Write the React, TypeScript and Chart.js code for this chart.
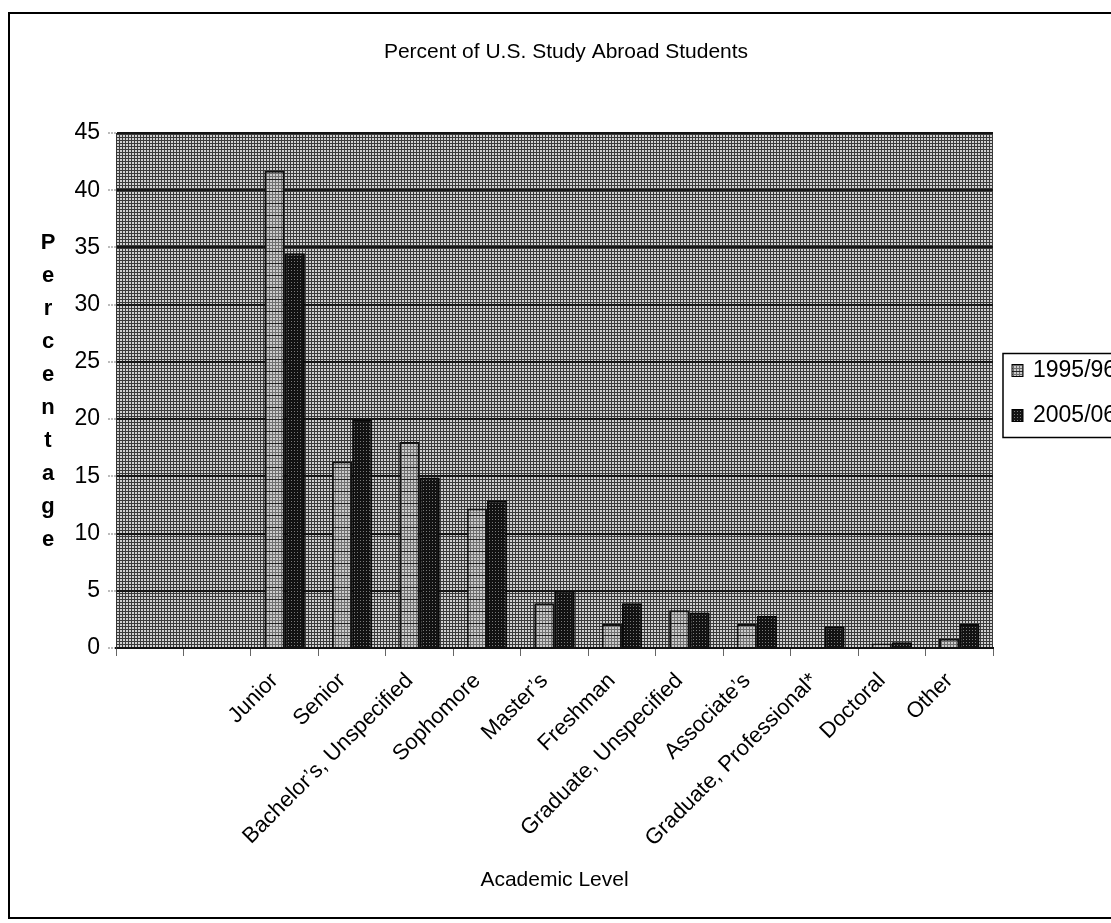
import React, { useEffect, useRef } from 'react';
import { Chart, registerables } from 'chart.js';

Chart.register(...registerables);

// Academic levels (the first two slots are left blank on the axis)
const levels = [
  '',
  '',
  'Junior',
  'Senior',
  'Bachelor’s, Unspecified',
  'Sophomore',
  'Master’s',
  'Freshman',
  'Graduate, Unspecified',
  'Associate’s',
  'Graduate, Professional*',
  'Doctoral',
  'Other',
];

const seriesNames = ['1995/96', '2005/06'];

// Percent of U.S. study abroad students by academic level
const share1995 = [null, null, 41.7, 16.3, 18.0, 12.2, 3.9, 2.1, 3.3, 2.1, 0, 0.4, 0.8];
const share2005 = [null, null, 34.5, 20.0, 14.9, 12.9, 5.0, 3.9, 3.1, 2.8, 1.9, 0.5, 2.1];

const yMin = 0;
const yMax = 45;
const yStep = 5;

const chartTitle = 'Percent of U.S. Study Abroad Students';
const xTitle = 'Academic Level';
const yTitle = 'Percentage';

const FONT = '"Liberation Sans", Arial, Helvetica, sans-serif';

function makePattern(w: number, h: number, paint: (x: number, y: number) => string): CanvasPattern | string {
  const c = document.createElement('canvas');
  c.width = w;
  c.height = h;
  const g = c.getContext('2d');
  if (!g) return '#999';
  for (let y = 0; y < h; y++) {
    for (let x = 0; x < w; x++) {
      g.fillStyle = paint(x, y);
      g.fillRect(x, y, 1, 1);
    }
  }
  const p = g.createPattern(c, 'repeat');
  return p || '#999';
}

export default function App() {
  const canvasRef = useRef<HTMLCanvasElement | null>(null);

  useEffect(() => {
    const canvas = canvasRef.current;
    if (!canvas) return;

    // halftone-like fills
    const plotFill = makePattern(3, 3, (x, y) => (x === 2 || y === 2 ? '#3a3a3a' : '#d0d0d0'));
    const fill1995 = makePattern(3, 12, (x, y) => {
      if (y === 11) return '#222222';
      return x === 2 || y % 3 === 2 ? '#6e6e6e' : '#cccccc';
    });
    const fill2005 = makePattern(3, 3, (x, y) => (x === 0 && y === 0 ? '#7a7a7a' : '#121212'));

    const decor = {
      id: 'decor',
      beforeDraw(chart: any) {
        const { ctx, chartArea: a } = chart;
        ctx.save();
        ctx.fillStyle = '#ffffff';
        ctx.fillRect(0, 0, chart.width, chart.height);
        ctx.fillStyle = plotFill;
        ctx.fillRect(a.left, a.top, a.right - a.left, a.bottom - a.top);
        ctx.restore();
      },
      afterDraw(chart: any) {
        const { ctx, chartArea: a } = chart;
        const mid = (a.top + a.bottom) / 2;
        ctx.save();

        // chart title, centred on the framed area
        ctx.fillStyle = '#000';
        ctx.font = `21px ${FONT}`;
        ctx.textAlign = 'center';
        ctx.textBaseline = 'middle';
        ctx.fillText(chartTitle, 566, 52);

        // stacked vertical axis title
        ctx.font = `bold 22px ${FONT}`;
        ctx.textAlign = 'center';
        ctx.textBaseline = 'alphabetic';
        const letters = yTitle.split('');
        const gap = 33;
        letters.forEach((ch, i) => {
          const y = mid - ((letters.length - 1) / 2) * gap + i * gap + 7;
          ctx.fillText(ch, 48, y);
        });

        // legend box
        const boxX = a.right + 10;
        const boxY = mid - 37;
        const boxH = 84;
        ctx.fillStyle = '#fff';
        ctx.fillRect(boxX, boxY, 200, boxH);
        ctx.strokeStyle = '#000';
        ctx.lineWidth = 1.5;
        ctx.strokeRect(boxX, boxY, 200, boxH);
        ctx.font = `23px ${FONT}`;
        ctx.textAlign = 'left';
        ctx.textBaseline = 'middle';
        chart.data.datasets.forEach((ds: any, i: number) => {
          const cy = boxY + 17 + i * 45;
          ctx.fillStyle = ds.backgroundColor;
          ctx.fillRect(boxX + 9, cy - 6, 11, 12);
          ctx.strokeStyle = '#000';
          ctx.lineWidth = 1;
          ctx.strokeRect(boxX + 9, cy - 6, 11, 12);
          ctx.fillStyle = '#000';
          ctx.fillText(ds.label, boxX + 30, cy);
        });

        // outer frame
        ctx.strokeStyle = '#000';
        ctx.lineWidth = 2;
        ctx.strokeRect(9, 13, 1130, 905);
        ctx.restore();
      },
    };

    const chart = new Chart(canvas, {
      type: 'bar',
      data: {
        labels: levels,
        datasets: [
          {
            label: seriesNames[0],
            data: share1995,
            backgroundColor: fill1995 as any,
            borderColor: '#111',
            borderWidth: 2,
            borderSkipped: 'start',
            categoryPercentage: 0.6,
            barPercentage: 1.0,
          },
          {
            label: seriesNames[1],
            data: share2005,
            backgroundColor: fill2005 as any,
            borderColor: '#0a0a0a',
            borderWidth: 2,
            borderSkipped: 'start',
            categoryPercentage: 0.6,
            barPercentage: 1.0,
          },
        ],
      },
      options: {
        responsive: false,
        animation: false,
        layout: { padding: { left: 0, right: 118, top: 133, bottom: 0 } },
        plugins: {
          legend: { display: false },
          tooltip: { enabled: false },
          title: { display: false },
        },
        scales: {
          x: {
            afterFit(scale: any) {
              scale.height = 275;
            },
            grid: {
              display: true,
              offset: true,
              drawOnChartArea: false,
              drawTicks: true,
              tickLength: 8,
              tickColor: '#666',
              tickWidth: 1,
            },
            border: { display: true, color: '#111', width: 2 },
            ticks: {
              autoSkip: false,
              maxRotation: 45,
              minRotation: 45,
              color: '#000',
              padding: 12,
              labelOffset: -10,
              font: { family: FONT, size: 22 },
            },
            title: {
              display: true,
              text: xTitle,
              color: '#000',
              font: { family: FONT, size: 21 },
              padding: { top: 0, bottom: 30 },
            },
          },
          y: {
            min: yMin,
            max: yMax,
            afterFit(scale: any) {
              scale.width = 116;
            },
            grid: {
              color: '#151515',
              lineWidth: 2,
              tickLength: 8,
              tickColor: '#777',
              tickWidth: 1,
              tickBorderDash: [2, 1],
            },
            border: { display: true, color: '#333', width: 1 },
            ticks: {
              stepSize: yStep,
              color: '#000',
              padding: 8,
              font: { family: FONT, size: 23 },
            },
          },
        },
      },
      plugins: [decor],
    });

    return () => chart.destroy();
  }, []);

  return (
    <div style={{ position: 'fixed', left: 0, top: 0, width: 1111, height: 923, background: '#fff', overflow: 'hidden' }}>
      <canvas ref={canvasRef} width={1111} height={923} style={{ display: 'block' }} />
    </div>
  );
}
